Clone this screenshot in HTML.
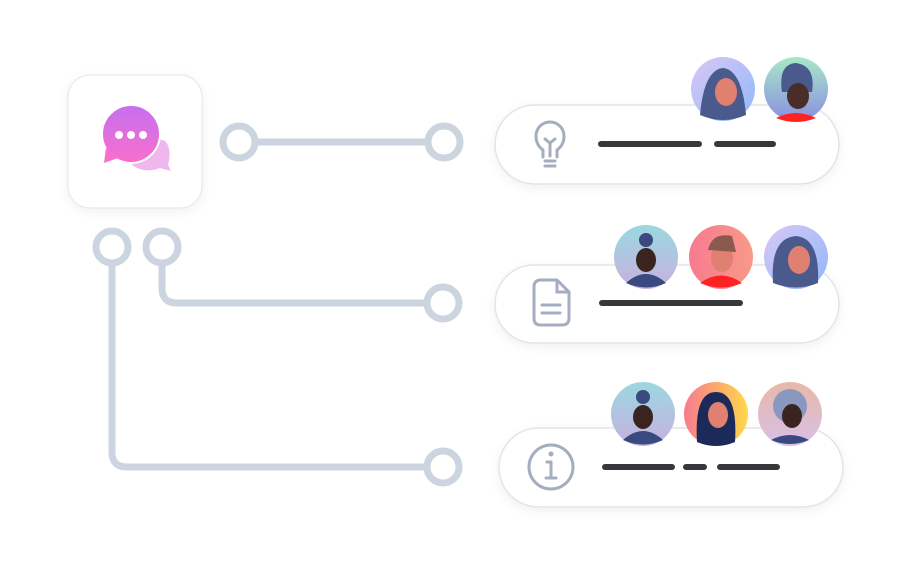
<!DOCTYPE html>
<html><head><style>
body{margin:0;width:910px;height:564px;background:#fff;overflow:hidden;font-family:"Liberation Sans",sans-serif}
</style></head><body>
<svg width="910" height="564" viewBox="0 0 910 564" xmlns="http://www.w3.org/2000/svg">
<defs>
<filter id="sh" x="-20%" y="-40%" width="140%" height="180%"><feDropShadow dx="0" dy="3" stdDeviation="5" flood-color="#000" flood-opacity="0.06"/></filter>
<linearGradient id="b1" x1="0" y1="0" x2="0" y2="1"><stop offset="0" stop-color="#c66ff0"/><stop offset="1" stop-color="#f86fcc"/></linearGradient>
<linearGradient id="a1" x1="0" y1="0" x2="1" y2="1"><stop offset="0" stop-color="#d9c8f7"/><stop offset="1" stop-color="#8fb8f7"/></linearGradient>
<linearGradient id="a2" x1="0" y1="0" x2="0" y2="1"><stop offset="0" stop-color="#a8e8c8"/><stop offset="1" stop-color="#8a8fe0"/></linearGradient>
<linearGradient id="a3" x1="0" y1="0" x2="0" y2="1"><stop offset="0" stop-color="#9ad8e0"/><stop offset="1" stop-color="#c8b0e0"/></linearGradient>
<linearGradient id="a4" x1="0" y1="0" x2="1" y2="0"><stop offset="0" stop-color="#f87a90"/><stop offset="1" stop-color="#f89a88"/></linearGradient>
<linearGradient id="a5" x1="0" y1="0" x2="1" y2="0"><stop offset="0" stop-color="#f87a90"/><stop offset="1" stop-color="#ffd84a"/></linearGradient>
<linearGradient id="a6" x1="0" y1="0" x2="0" y2="1"><stop offset="0" stop-color="#e8b8a8"/><stop offset="1" stop-color="#d8c0e8"/></linearGradient>
</defs>
<!-- app icon -->
<rect x="68" y="75" width="134" height="133" rx="22" fill="#fff" stroke="#e6e6e9" filter="url(#sh)"/>
<path d="M138 143 Q160 136 166 142 Q172 150 168 165 L171 171 L160 168 Q145 174 132 165 Z" fill="#f0b6ee"/>
<circle cx="131" cy="134" r="29" fill="url(#b1)" stroke="#fff" stroke-width="2"/>
<path d="M106 148 L104 163 L118 158 Z" fill="#f86fcc"/>
<circle cx="119" cy="135" r="4" fill="#fff"/><circle cx="131" cy="135" r="4" fill="#fff"/><circle cx="143" cy="135" r="4" fill="#fff"/>
<!-- connectors -->
<g fill="none" stroke="#ccd4df" stroke-width="7">
<line x1="255" y1="142" x2="428" y2="142"/>
<circle cx="239" cy="142" r="16" fill="#fff"/><circle cx="444" cy="142" r="16" fill="#fff"/>
<path d="M162 263 V288 Q162 303 177 303 H427"/>
<path d="M112 263 V452 Q112 467 127 467 H427"/>
<circle cx="112" cy="247" r="16" fill="#fff"/><circle cx="162" cy="247" r="16" fill="#fff"/>
<circle cx="443" cy="303" r="16" fill="#fff"/><circle cx="443" cy="467" r="16" fill="#fff"/>
</g>
<!-- pills -->
<g fill="#fff" stroke="#e4e4e7" stroke-width="1.5" filter="url(#sh)">
<rect x="495" y="105" width="344" height="79" rx="39.5"/>
<rect x="495" y="265" width="344" height="78" rx="39"/>
<rect x="499" y="428" width="344" height="79" rx="39.5"/>
</g>
<!-- icons -->
<g fill="none" stroke="#a4aebe" stroke-width="3" stroke-linecap="round">
<path d="M543 157 V150 Q536 145 536 136 A14 14 0 1 1 564 136 Q564 145 557 150 V157"/>
<path d="M545 139 L550 143 L555 139 M550 143 V156"/>
<line x1="545" y1="161" x2="555" y2="161"/><line x1="545" y1="166" x2="555" y2="166"/>
<path d="M546 280 H557 L569 292 V318 Q569 325 562 325 H540 Q534 325 534 318 V287 Q534 280 541 280 Z M557 280 V292 H569"/>
<line x1="542" y1="305" x2="560" y2="305"/><line x1="542" y1="313" x2="560" y2="313"/>
<circle cx="551" cy="467" r="22"/>
<line x1="551" y1="462" x2="551" y2="478"/><line x1="546" y1="478" x2="556" y2="478"/><line x1="547" y1="462" x2="551" y2="462"/>
</g>
<circle cx="551" cy="454" r="2.5" fill="#a4aebe"/>
<!-- bars -->
<g stroke="#36383b" stroke-width="6" stroke-linecap="round">
<line x1="601" y1="144" x2="699" y2="144"/><line x1="717" y1="144" x2="773" y2="144"/>
<line x1="602" y1="303" x2="740" y2="303"/>
<line x1="605" y1="467" x2="672" y2="467"/><line x1="686" y1="467" x2="704" y2="467"/><line x1="720" y1="467" x2="777" y2="467"/>
</g>
<!-- avatars -->
<g>
<circle cx="723" cy="89" r="32" fill="url(#a1)"/>
<circle cx="796" cy="89" r="32" fill="url(#a2)"/>
<circle cx="646" cy="257" r="32" fill="url(#a3)"/>
<circle cx="721" cy="257" r="32" fill="url(#a4)"/>
<circle cx="796" cy="257" r="32" fill="url(#a1)"/>
<circle cx="643" cy="414" r="32" fill="url(#a3)"/>
<circle cx="716" cy="414" r="32" fill="url(#a5)"/>
<circle cx="790" cy="414" r="32" fill="url(#a6)"/>
</g>
<g>
<!-- faces simplified -->
<path d="M700 115 Q704 70 723 68 Q742 70 746 115 Q723 125 700 115Z" fill="#4a5a8c"/><ellipse cx="726" cy="92" rx="11" ry="14" fill="#e08070"/>
<path d="M782 92 Q778 64 796 63 Q816 66 812 92Z" fill="#4a5a8c"/><ellipse cx="798" cy="96" rx="11" ry="13" fill="#4a2c28"/><path d="M776 118 Q796 108 816 118 Q796 126 776 118Z" fill="#f22"/>
<path d="M626 283 Q646 265 666 283 Q646 292 626 283Z" fill="#3a4a80"/><ellipse cx="646" cy="260" rx="10" ry="12" fill="#3a2420"/><circle cx="646" cy="240" r="7" fill="#3a4a80"/>
<path d="M700 283 Q721 268 742 283 Q721 292 700 283Z" fill="#f22"/><ellipse cx="722" cy="258" rx="11" ry="14" fill="#e08070"/><path d="M708 250 Q712 232 732 236 L736 252 Z" fill="#8a5a50"/>
<path d="M773 283 Q770 238 796 236 Q820 238 818 283 Q796 292 773 283Z" fill="#4a5a8c"/><ellipse cx="799" cy="260" rx="11" ry="14" fill="#e08070"/>
<path d="M623 440 Q643 422 663 440 Q643 449 623 440Z" fill="#3a4a80"/><ellipse cx="643" cy="417" rx="10" ry="12" fill="#3a2420"/><circle cx="643" cy="397" r="7" fill="#3a4a80"/>
<path d="M697 442 Q694 392 716 392 Q738 392 735 442 Q716 450 697 442Z" fill="#1c2a5a"/><ellipse cx="718" cy="415" rx="10" ry="13" fill="#e08070"/>
<circle cx="790" cy="406" r="17" fill="#8a98c0"/><ellipse cx="792" cy="416" rx="10" ry="12" fill="#3a2420"/><path d="M771 440 Q790 430 809 440 Q790 448 771 440Z" fill="#3a4a80"/>
</g>
</svg>
</body></html>
